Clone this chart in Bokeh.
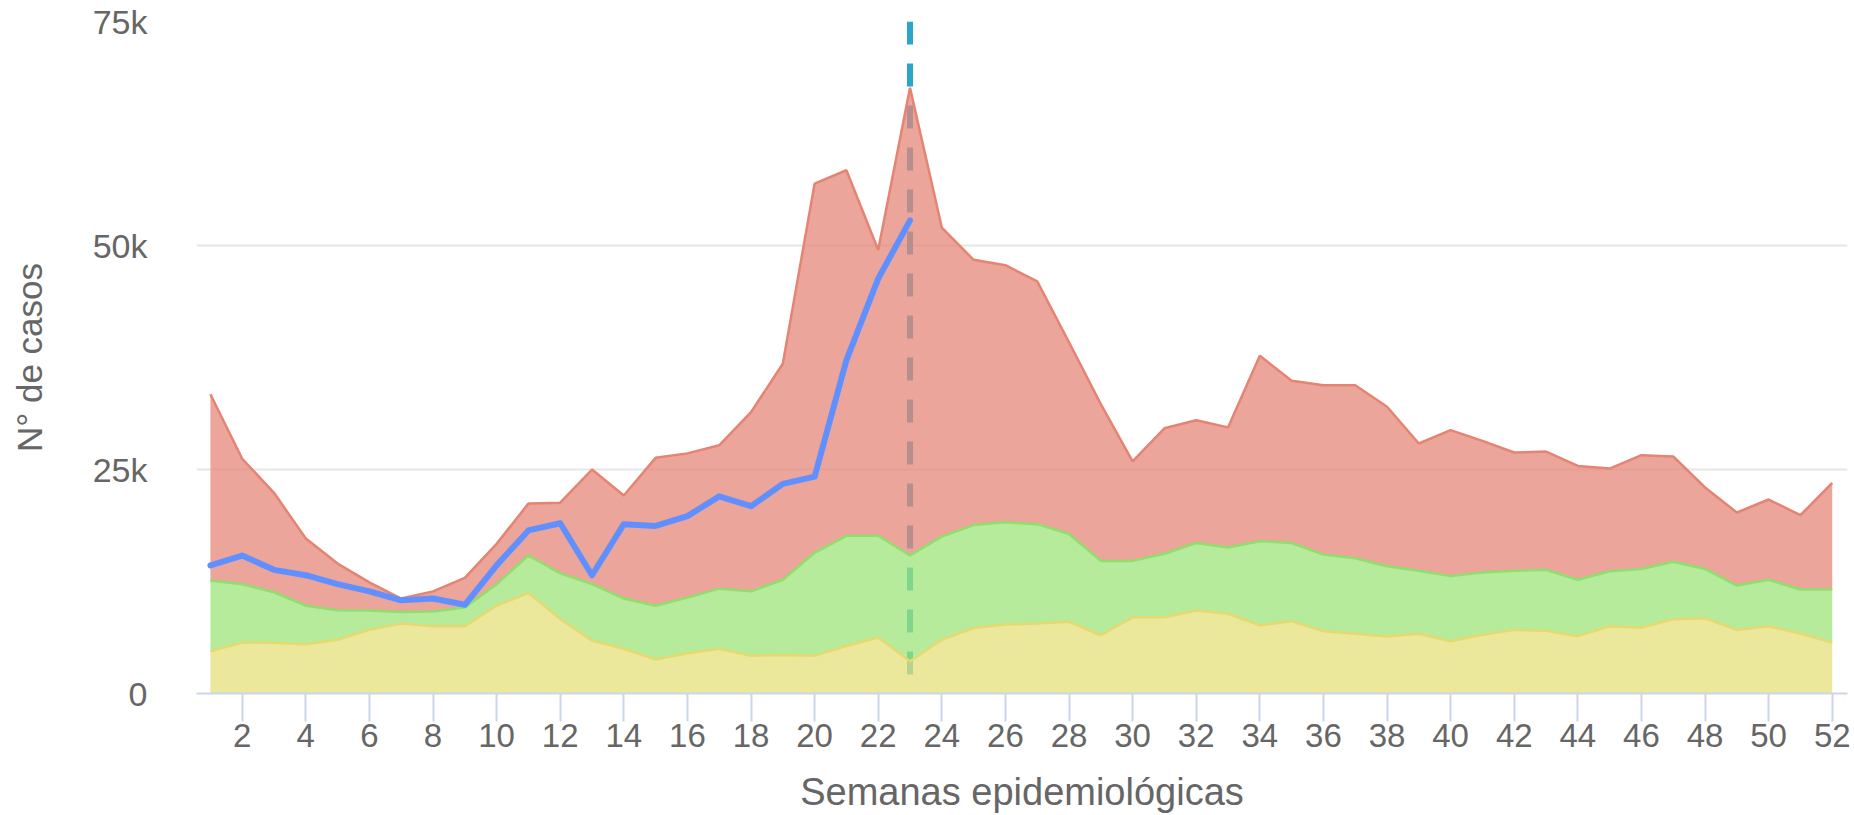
from bokeh.plotting import figure
from bokeh.models import Range1d, FixedTicker, ColumnDataSource
from bokeh.embed import file_html
from bokeh.resources import INLINE

# ---- data ----
semanas = list(range(1, 53))

# upper limit of the yellow zone
zona_exito = [4700, 5700, 5660, 5500, 6000, 7100, 7800, 7500, 7500, 9800,
              11200, 8300, 5900, 5000, 3800, 4500, 5000, 4200, 4300, 4200,
              5300, 6250, 3600, 6000, 7300, 7700, 7800, 8000, 6500, 8500,
              8500, 9260, 8900, 7600, 8070, 6960, 6660, 6360, 6660, 5840,
              6550, 7100, 7000, 6400, 7500, 7330, 8300, 8400, 7100, 7500,
              6700, 5700]
# upper limit of the green zone
zona_seguridad = [12600, 12200, 11300, 9800, 9300, 9260, 9100, 9150, 9600, 12200,
                  15400, 13400, 12200, 10600, 9800, 10700, 11700, 11400, 12700, 15700,
                  17600, 17600, 15400, 17500, 18800, 19100, 18900, 17800, 14800, 14800,
                  15600, 16800, 16300, 17000, 16800, 15500, 15100, 14200, 13700, 13100,
                  13500, 13700, 13800, 12700, 13650, 13900, 14700, 13900, 12050, 12700,
                  11600, 11600]
# upper limit of the red zone
zona_alerta = [33400, 26200, 22400, 17300, 14500, 12400, 10600, 11400, 12900, 16700,
               21200, 21300, 25000, 22100, 26300, 26800, 27700, 31400, 36800, 56900,
               58400, 49500, 67600, 52000, 48400, 47800, 46000, 39200, 32300, 25900,
               29600, 30500, 29700, 37700, 34900, 34400, 34400, 32000, 27900, 29400,
               28200, 26900, 27000, 25400, 25100, 26600, 26450, 23000, 20200, 21650,
               19900, 23500]
# cases of the current year
casos_actual = [14300, 15400, 13800, 13200, 12200, 11400, 10400, 10600, 9900, 14300,
                18200, 19000, 13200, 18900, 18700, 19800, 22000, 20900, 23400, 24200,
                37200, 46300, 52800]
semana_actual = 23

y_ticks = [0, 25000, 50000, 75000]
y_tick_labels = ["0", "25k", "50k", "75k"]
x_ticks = list(range(2, 53, 2))
x_title = "Semanas epidemiológicas"
y_title = "N° de casos"

FONT = "Liberation Sans"
TXT = "#666666"

c_red, c_red_line = "#E48778", "#E58472"
c_green, c_green_line = "#9CE479", "#8EE06C"
c_yellow, c_yellow_line = "#E4E079", "#E8D870"
c_blue = "#6090FF"
c_vline = "#2BA6CB"

p = figure(width=1854, height=815, output_backend="svg", toolbar_location=None,
           x_range=Range1d(0.563, 52.48), y_range=Range1d(0, 75000),
           min_border_left=196, min_border_right=7, min_border_top=21,
           min_border_bottom=122)
p.outline_line_color = None
p.background_fill_color = "white"
p.border_fill_color = "white"

src = ColumnDataSource(dict(x=semanas, y0=[0] * len(semanas), a=zona_exito,
                            b=zona_seguridad, c=zona_alerta))

# current-week marker (behind the translucent areas)
p.segment(x0=[semana_actual], y0=[y_ticks[-1]], x1=[semana_actual], y1=[y_ticks[0]],
          line_color=c_vline, line_width=6, line_dash="23 19")

p.varea(x="x", y1="y0", y2="a", source=src, fill_color=c_yellow, fill_alpha=0.75)
p.varea(x="x", y1="a", y2="b", source=src, fill_color=c_green, fill_alpha=0.75)
p.varea(x="x", y1="b", y2="c", source=src, fill_color=c_red, fill_alpha=0.75)
p.line(x="x", y="c", source=src, line_color=c_red_line, line_width=2.5)
p.line(x="x", y="b", source=src, line_color=c_green_line, line_width=2.5)
p.line(x="x", y="a", source=src, line_color=c_yellow_line, line_width=2.5)

p.line(semanas[:len(casos_actual)], casos_actual, line_color=c_blue, line_width=6,
       line_join="round", line_cap="round")

# axes
p.xaxis.ticker = FixedTicker(ticks=x_ticks)
p.xaxis.axis_line_color = "#ccd6eb"
p.xaxis.axis_line_width = 2
p.xaxis.major_tick_line_color = "#ccd6eb"
p.xaxis.major_tick_line_width = 2
p.xaxis.major_tick_out = 28
p.xaxis.major_tick_in = 0
p.xaxis.minor_tick_line_color = None
p.xaxis.major_label_standoff = 2
p.xaxis.major_label_text_font = FONT
p.xaxis.major_label_text_font_size = "33px"
p.xaxis.major_label_text_color = TXT
p.xaxis.axis_label = x_title
p.xaxis.axis_label_text_font = FONT
p.xaxis.axis_label_text_font_size = "38px"
p.xaxis.axis_label_text_font_style = "normal"
p.xaxis.axis_label_text_color = TXT
p.xaxis.axis_label_standoff = 21

p.yaxis.ticker = FixedTicker(ticks=y_ticks)
p.yaxis.major_label_overrides = {t: l for t, l in zip(y_ticks, y_tick_labels)}
p.yaxis.axis_line_color = None
p.yaxis.major_tick_line_color = None
p.yaxis.minor_tick_line_color = None
p.yaxis.major_tick_out = 0
p.yaxis.major_tick_in = 0
p.yaxis.major_label_standoff = 49
p.yaxis.major_label_text_font = FONT
p.yaxis.major_label_text_font_size = "34px"
p.yaxis.major_label_text_color = TXT
p.yaxis.axis_label = y_title
p.yaxis.axis_label_text_font = FONT
p.yaxis.axis_label_text_font_size = "35px"
p.yaxis.axis_label_text_font_style = "normal"
p.yaxis.axis_label_text_color = TXT
p.yaxis.axis_label_standoff = 41

p.xgrid.grid_line_color = None
p.ygrid.ticker = FixedTicker(ticks=y_ticks)
p.ygrid.grid_line_color = "#e6e6e6"
p.ygrid.grid_line_width = 2

open("out.html", "w").write(file_html(p, INLINE))
